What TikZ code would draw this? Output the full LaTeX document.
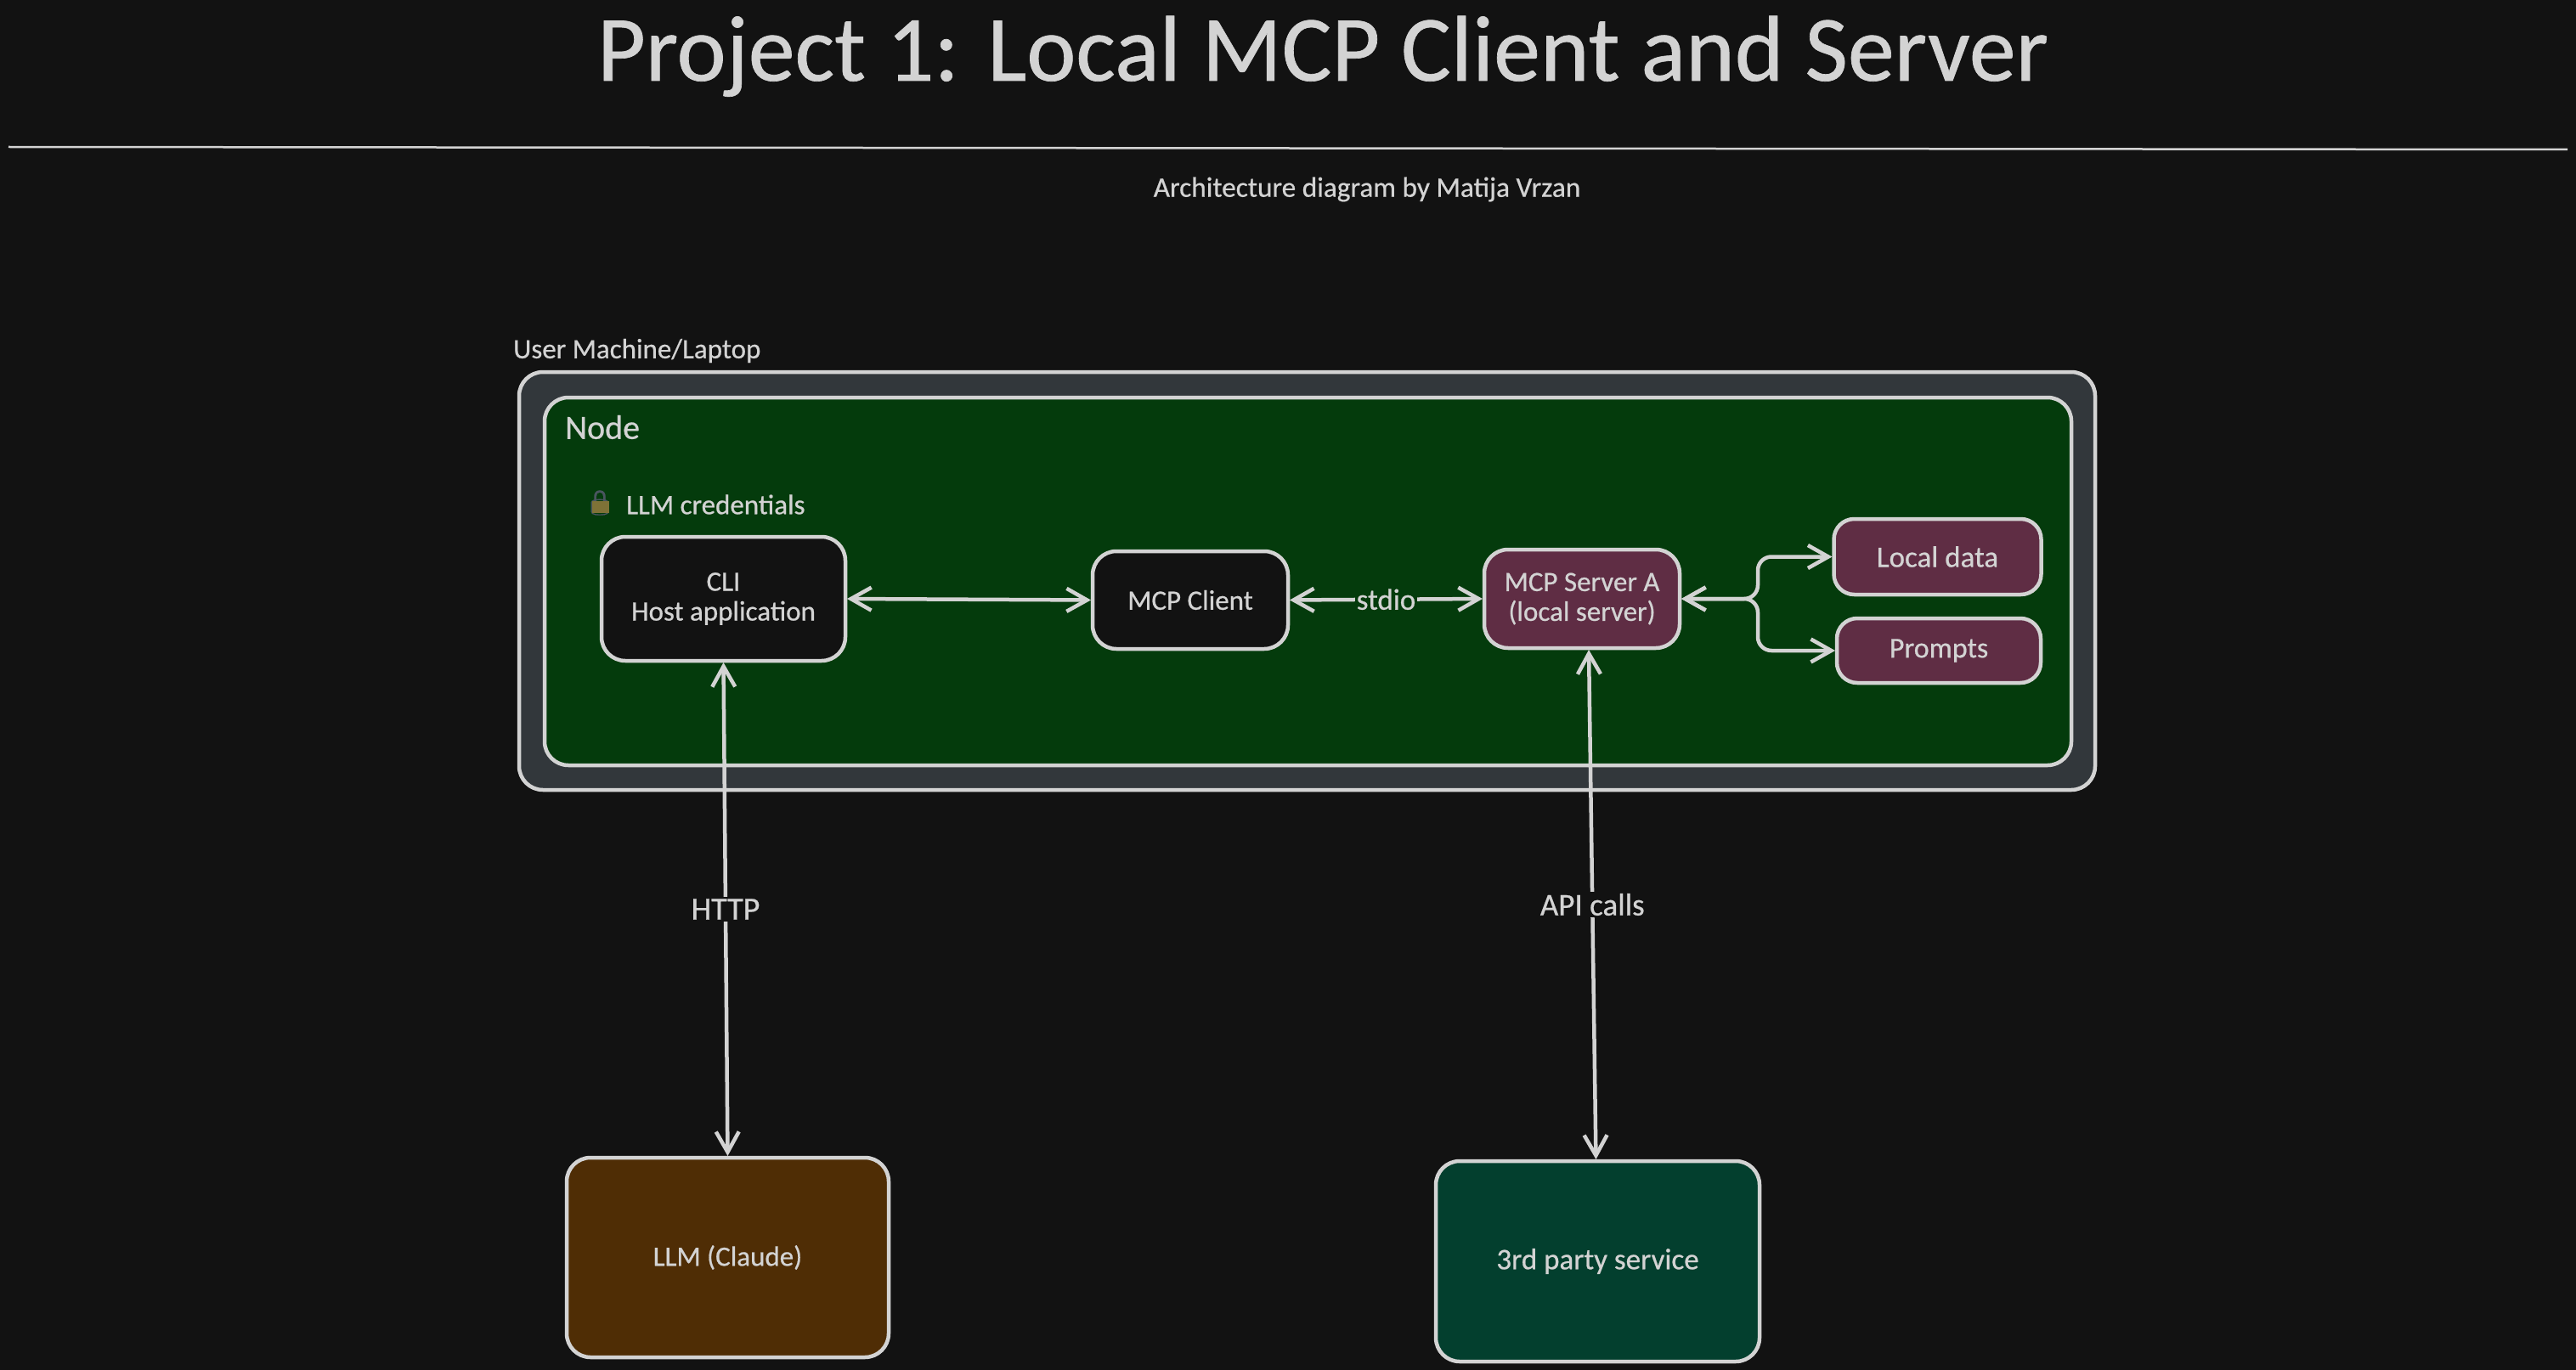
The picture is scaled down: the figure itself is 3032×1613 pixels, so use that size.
\documentclass[tikz,border=0pt]{standalone}
\usepackage{fontspec}
\setmainfont{Carlito}[FakeBold=0.6]
\newfontfamily\emojifont{Noto Emoji}[FakeBold=0.5]
\usetikzlibrary{arrows.meta,calc}
\definecolor{bgc}{HTML}{121212}
\definecolor{strokec}{HTML}{D3D3D3}
\definecolor{slatec}{HTML}{32373B}
\definecolor{greenc}{HTML}{043B0C}
\definecolor{maroonc}{HTML}{5F2D44}
\definecolor{brownc}{HTML}{4F2D05}
\definecolor{tealc}{HTML}{033F2E}
\definecolor{lockc}{HTML}{7F7237}
\definecolor{shacklec}{HTML}{4A5560}
\tikzset{
  box/.style={draw=strokec,line width=4.5pt,rounded corners=28pt,inner sep=0pt,outer sep=0pt,text=strokec,align=center,font=\fontsize{33}{35}\selectfont},
  smallbox/.style={box,rounded corners=24pt},
  conn/.style={draw=strokec,line width=4.5pt,{Straight Barb[length=24pt,width=27pt,line width=4.5pt]}-{Straight Barb[length=24pt,width=27pt,line width=4.5pt]},shorten >=2pt,shorten <=2pt},
  lbl/.style={text=strokec,inner sep=2pt,font=\fontsize{34}{36}\selectfont},
  plain/.style={text=strokec,inner sep=0pt}
}
\begin{document}
\begin{tikzpicture}[x=1pt,y=-1pt]
\useasboundingbox (0,0) rectangle (3032,1613);
\fill[bgc] (0,0) rectangle (3032,1613);
% title block
\node[plain,font=\fontsize{110}{120}\selectfont,anchor=base] (title) at (1557,95) {Project 1: Local MCP Client and Server};
\coordinate (ruleL) at (10,173);
\coordinate (ruleR) at (3022,176);
\draw[strokec,line width=2.5pt] (ruleL) -- (ruleR);
\node[plain,font=\fontsize{33.3}{35}\selectfont] (subtitle) at (1609,223) {Architecture diagram by Matija Vrzan};
% containers
\node[box,fill=slatec,minimum width=1855pt,minimum height=492pt] (machine) at (1538.5,684) {};
\node[box,fill=greenc,minimum width=1797pt,minimum height=433pt] (nodebox) at (1539.5,684.5) {};
\node[plain,font=\fontsize{33}{35}\selectfont,anchor=west] (machinelbl) at (604,413) {User Machine/Laptop};
\node[plain,font=\fontsize{40}{44}\selectfont,anchor=west] (nodelbl) at (665,503) {Node};
\node[plain,text=shacklec,font=\emojifont\fontsize{29}{30}\selectfont] (lock) at (706,592) {🔒};
\fill[lockc] (696.5,590) rectangle (716.5,603.5);
\node[plain,font=\fontsize{33}{35}\selectfont,anchor=west] (cred) at (737,594) {LLM credentials};
% nodes
\node[box,fill=bgc,minimum width=287pt,minimum height=146pt] (cli) at (851.5,705) {CLI\\Host application};
\node[box,fill=bgc,minimum width=230pt,minimum height=115pt] (client) at (1401,706.5) {MCP Client};
\node[box,fill=maroonc,minimum width=230pt,minimum height=116pt] (server) at (1862,705) {MCP Server A\\(local server)};
\node[smallbox,fill=maroonc,minimum width=244pt,minimum height=89pt,font=\fontsize{35}{37}\selectfont] (local) at (2280.5,655.5) {Local data};
\node[smallbox,fill=maroonc,minimum width=240pt,minimum height=76pt,font=\fontsize{34}{36}\selectfont] (prompts) at (2282,766) {Prompts};
\node[box,fill=brownc,minimum width=379pt,minimum height=235pt] (llm) at (856.5,1480.5) {LLM (Claude)};
\node[box,fill=tealc,minimum width=381pt,minimum height=236pt,font=\fontsize{35}{37}\selectfont] (third) at (1880.5,1485) {3rd party service};
% connectors
\draw[conn] (cli.east) -- (client.west);
\draw[conn] (client.east) -- node[lbl,fill=greenc,font=\fontsize{35}{37}\selectfont] {stdio} (server.west);
\coordinate (junction) at (2069,705);
\draw[conn,rounded corners=16pt] (server.east) -- (junction) -- (junction |- local.west) -- (local.west);
\draw[conn,rounded corners=16pt] (server.east) -- (junction) -- (junction |- prompts.west) -- (prompts.west);
\draw[conn] (cli.south) -- node[lbl,fill=bgc,pos=0.5,font=\fontsize{38}{40}\selectfont] {HTTP} (llm.north);
\draw[conn] ($(server.south)+(8,0)$) -- node[lbl,fill=bgc,pos=0.5,font=\fontsize{37}{39}\selectfont] {API calls} ($(third.north)+(-2,0)$);
\end{tikzpicture}
\end{document}
